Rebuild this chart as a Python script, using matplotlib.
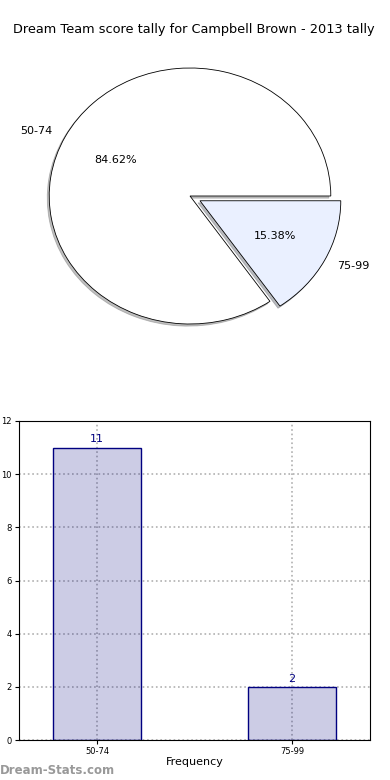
import matplotlib
matplotlib.use("Agg")
import matplotlib.pyplot as plt

title = "Dream Team score tally for Campbell Brown - 2013 tally"
bands = ["50-74", "75-99"]
counts = [11, 2]
pie_colors = ["white", "#eaf0ff"]
explode = [0, 0.08]

fig = plt.figure(figsize=(3.9, 7.8), dpi=100)
fig.text(194 / 390, 1 - 30 / 780, title, ha="center", va="center", fontsize=9.3)

# pie on top (stretched, like old matplotlib)
ax1 = fig.add_axes([14 / 390, 1 - 356 / 780, 352 / 390, 320 / 780])
wedges, texts, autotexts = ax1.pie(counts, labels=bands, colors=pie_colors,
                                   explode=explode, autopct="%.2f%%",
                                   shadow={"ox": -0.01, "oy": -0.012, "shade": 0.5},
                                   startangle=0,
                                   wedgeprops=dict(edgecolor="black", linewidth=0.6),
                                   textprops=dict(fontsize=8))
ax1.set_aspect("auto")
ax1.set_xlim(-1.25, 1.25)
ax1.set_ylim(-1.25, 1.25)

# bar chart below
ax2 = fig.add_axes([19 / 390, 1 - 740 / 780, 351 / 390, 319 / 780])
x = list(range(len(bands)))
ax2.bar(x, counts, width=0.45, color="navy", alpha=0.2, zorder=2)
ax2.bar(x, counts, width=0.45, fill=False, edgecolor="navy", linewidth=1, zorder=3)
for xi, c in zip(x, counts):
    ax2.text(xi, c + 0.12, str(c), ha="center", va="bottom", color="navy", fontsize=8)
ax2.set_xlim(-0.4, 1.4)
ax2.set_ylim(0, 12)
ax2.set_xticks(x)
ax2.set_xticklabels(bands)
ax2.set_yticks(range(0, 13, 2))
ax2.tick_params(labelsize=6, length=3, pad=2)
ax2.grid(True, linestyle=":", color="#b0b0b0", linewidth=1.2, zorder=0)
ax2.set_axisbelow(True)
ax2.set_xlabel("Frequency", fontsize=8, labelpad=1)
ax2.set_ylabel("Scores in Tally", fontsize=8)
ax2.yaxis.set_label_coords(-0.062, 0.5)

fig.text(0.0, 1 - 770 / 780, "Dream-Stats.com", ha="left", va="center",
         fontsize=8.5, color="#999999", fontweight="bold")

fig.savefig("out.png", dpi=100)
